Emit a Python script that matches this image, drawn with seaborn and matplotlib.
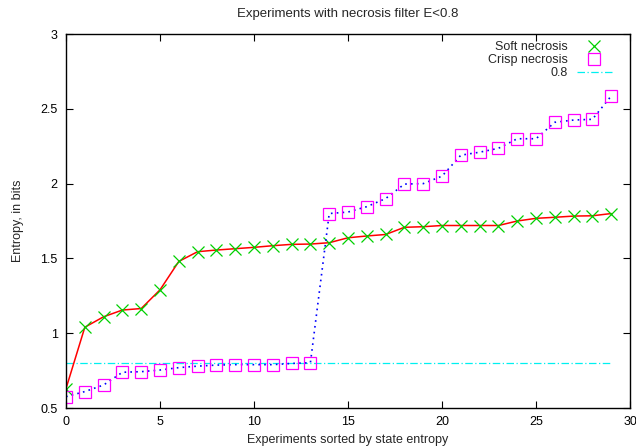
import numpy as np
import pandas as pd
import matplotlib
matplotlib.use('Agg')
import matplotlib.pyplot as plt
from matplotlib.lines import Line2D
import seaborn as sns

# values
experiments = list(range(30))
soft_necrosis = [0.63, 1.04, 1.11, 1.155, 1.165, 1.29, 1.48, 1.545, 1.556, 1.565,
                 1.574, 1.585, 1.594, 1.596, 1.605, 1.638, 1.65, 1.66, 1.708, 1.712,
                 1.72, 1.72, 1.72, 1.72, 1.75, 1.768, 1.775, 1.783, 1.785, 1.80]
crisp_necrosis = [0.576, 0.61, 0.654, 0.739, 0.743, 0.754, 0.77, 0.78, 0.787, 0.79,
                  0.79, 0.79, 0.798, 0.803, 1.80, 1.81, 1.846, 1.90, 1.997, 2.00,
                  2.05, 2.19, 2.21, 2.236, 2.30, 2.30, 2.41, 2.425, 2.43, 2.586]
threshold = 0.8

df = pd.DataFrame({'exp': experiments, 'soft': soft_necrosis, 'crisp': crisp_necrosis})

sns.set_style('ticks')
plt.rcParams['font.family'] = ['Liberation Sans', 'DejaVu Sans']
plt.rcParams['font.size'] = 9

fig = plt.figure(figsize=(6.36, 4.47), dpi=100)
ax = fig.add_axes([0.1038, 0.0872, 0.9906 - 0.1038, 0.9239 - 0.0872])

cyan = '#00f0f0'
dashdot = (0, (6, 2, 1, 2))

# threshold line
sns.lineplot(x=[0, 29], y=[threshold, threshold], ax=ax, color=cyan,
             linestyle=dashdot, linewidth=0.9)

# soft necrosis: red line, green crosses
sns.lineplot(data=df, x='exp', y='soft', ax=ax, color='red', linewidth=1.1)
ax.plot(df['exp'], df['soft'], linestyle='none', marker='x', markersize=8.5,
        markeredgecolor='#00d000', markeredgewidth=0.9)

# crisp necrosis: blue dotted line, magenta open squares
sns.lineplot(data=df, x='exp', y='crisp', ax=ax, color='blue',
             linestyle=(0, (1, 2.5)), linewidth=1.2)
ax.plot(df['exp'], df['crisp'], linestyle='none', marker='s', markersize=8.5,
        markerfacecolor='none', markeredgecolor='#ff00ff', markeredgewidth=0.9)

ax.set_xlim(0, 30)
ax.set_ylim(0.5, 3)
ax.set_xticks(range(0, 31, 5))
ax.set_yticks([0.5, 1, 1.5, 2, 2.5, 3])
ax.set_yticklabels(['0.5', '1', '1.5', '2', '2.5', '3'])
ax.tick_params(direction='in', top=True, right=True, length=5, width=0.8,
               labelsize=9, pad=6, colors='black')
for s in ax.spines.values():
    s.set_linewidth(1.0)
    s.set_color('black')

ax.set_title('Experiments with necrosis filter E<0.8', fontsize=9.5, pad=12)
ax.set_xlabel('Experiments sorted by state entropy', fontsize=9, labelpad=4)
ax.set_ylabel('Entropy, in bits', fontsize=9, labelpad=12)

handles = [
    Line2D([], [], linestyle='none', marker='x', markersize=8.5,
           markeredgecolor='#00d000', markeredgewidth=0.9),
    Line2D([], [], linestyle='none', marker='s', markersize=8.5,
           markerfacecolor='none', markeredgecolor='#ff00ff', markeredgewidth=0.9),
    Line2D([], [], color=cyan, linestyle=dashdot, linewidth=0.9),
]
leg = ax.legend(handles, ['Soft necrosis', 'Crisp necrosis', '0.8'], loc='upper right',
                frameon=False, markerfirst=False, fontsize=9, handlelength=2.8,
                labelspacing=0.08, borderaxespad=0, borderpad=0, handletextpad=0.7,
                bbox_to_anchor=(0.968, 0.981))
for t in leg.get_texts():
    t.set_ha('right')
leg._legend_box.align = 'right'

fig.savefig('out.png', dpi=100)
